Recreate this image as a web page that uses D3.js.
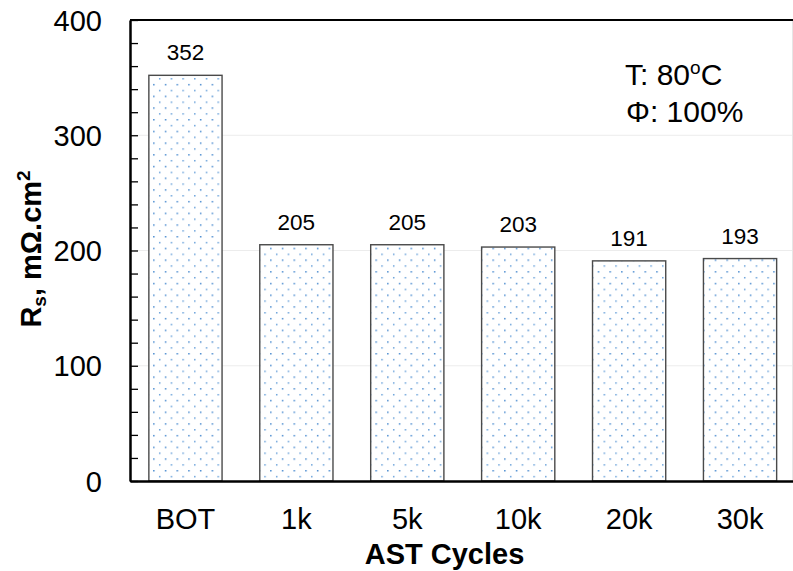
<!DOCTYPE html>
<html>
<head>
<meta charset="utf-8">
<script src="https://cdn.jsdelivr.net/npm/d3@7"></script>
<style>
  body { margin: 0; background: #fff; }
  svg { display: block; font-family: "Liberation Sans", Arial, sans-serif; }
</style>
</head>
<body>
<script>
(function(){
  //chart values
  const categories = ['BOT', '1k', '5k', '10k', '20k', '30k'];
  const values = [352, 205, 205, 203, 191, 193];
  const yTicks = [0, 20, 40, 60, 80, 100, 120, 140, 160, 180, 200, 220, 240, 260, 280, 300, 320, 340, 360, 380, 400];
  const gridValues = [100, 200, 300];

  const width = 793, height = 571;
  const left = 130, right = 795.5, top = 20, bottom = 481;

  const svg = d3.select('body').append('svg')
    .attr('width', width)
    .attr('height', height);

  //dotted fill for the bars
  const pat = svg.append('defs').append('pattern')
    .attr('id', 'dots')
    .attr('patternUnits', 'userSpaceOnUse')
    .attr('x', 1).attr('y', 2)
    .attr('width', 11.7).attr('height', 11.7);
  pat.append('rect').attr('width', 11.7).attr('height', 11.7).attr('fill', '#fff');
  pat.append('rect').attr('x', 0).attr('y', 0).attr('width', 1.5).attr('height', 1.5).attr('fill', '#4a8bd0');
  pat.append('rect').attr('x', 5.85).attr('y', 5.85).attr('width', 1.5).attr('height', 1.5).attr('fill', '#6aa2da');

  const x = d3.scaleBand()
    .domain(categories)
    .range([left, right])
    .paddingInner(0.34)
    .paddingOuter(0.17);

  const y = d3.scaleLinear()
    .domain([0, 400])
    .range([bottom, top]);

  //faint gridlines
  svg.selectAll('.grid')
    .data(gridValues)
    .enter().append('line')
    .attr('class', 'grid')
    .attr('x1', left).attr('x2', width)
    .attr('y1', d => y(d)).attr('y2', d => y(d))
    .attr('stroke', '#ececec')
    .attr('stroke-width', 1);

  //light right border of chart area
  svg.append('line')
    .attr('x1', 792.5).attr('x2', 792.5)
    .attr('y1', top).attr('y2', bottom)
    .attr('stroke', '#e6e6e6');

  //bars
  svg.selectAll('.bar')
    .data(values)
    .enter().append('rect')
    .attr('class', 'bar')
    .attr('x', (d, i) => x(categories[i]))
    .attr('width', x.bandwidth())
    .attr('y', d => y(d))
    .attr('height', d => bottom - y(d))
    .attr('fill', 'url(#dots)')
    .attr('stroke', '#4a4a4a')
    .attr('stroke-width', 1.4);

  //value labels
  svg.selectAll('.val')
    .data(values)
    .enter().append('text')
    .attr('class', 'val')
    .attr('x', (d, i) => x(categories[i]) + x.bandwidth() / 2)
    .attr('y', d => y(d) - 15)
    .attr('text-anchor', 'middle')
    .attr('font-size', 22.5)
    .attr('fill', '#000')
    .text(d => d);

  //top border
  svg.append('line')
    .attr('x1', left).attr('x2', width)
    .attr('y1', top).attr('y2', top)
    .attr('stroke', '#000')
    .attr('stroke-width', 2.2);

  //y axis, ticks pointing inward
  const yAxis = d3.axisLeft(y)
    .tickValues(yTicks)
    .tickSizeInner(-8)
    .tickSizeOuter(0)
    .tickPadding(28)
    .tickFormat(d => d % 100 === 0 ? d : '');

  const gy = svg.append('g')
    .attr('transform', 'translate(' + left + ',0)')
    .call(yAxis);
  gy.select('.domain').attr('stroke', '#000').attr('stroke-width', 2.5);
  gy.selectAll('.tick line').attr('stroke', '#000').attr('stroke-width', 1.3);
  gy.selectAll('.tick text')
    .attr('font-size', 29)
    .attr('font-family', '"Liberation Sans", Arial, sans-serif')
    .attr('fill', '#000')
    .attr('dy', '0.35em');

  //x axis
  const xAxis = d3.axisBottom(x).tickSize(0).tickPadding(27);
  const gx = svg.append('g')
    .attr('transform', 'translate(0,' + bottom + ')')
    .call(xAxis);
  gx.select('.domain').attr('stroke', '#000').attr('stroke-width', 2.5);
  gx.selectAll('.tick text')
    .attr('font-size', 29)
    .attr('font-family', '"Liberation Sans", Arial, sans-serif')
    .attr('fill', '#000');

  //axis titles
  svg.append('text')
    .attr('x', 444.5)
    .attr('y', 564)
    .attr('text-anchor', 'middle')
    .attr('font-size', 29)
    .attr('font-weight', 'bold')
    .text('AST Cycles');

  const yt = svg.append('text')
    .attr('transform', 'translate(41,249) rotate(-90)')
    .attr('text-anchor', 'middle')
    .attr('font-size', 29)
    .attr('font-weight', 'bold');
  yt.append('tspan').text('R');
  yt.append('tspan').attr('font-size', 19).attr('dy', 5).text('s');
  yt.append('tspan').attr('dy', -5).text(', m\u03A9.cm');
  yt.append('tspan').attr('font-size', 19).attr('dy', -11).text('2');

  //conditions note
  const t1 = svg.append('text')
    .attr('x', 625).attr('y', 85)
    .attr('font-size', 30);
  t1.append('tspan').text('T: 80');
  t1.append('tspan').attr('font-size', 19).attr('dy', -11).text('o');
  t1.append('tspan').attr('dy', 11).text('C');

  svg.append('text')
    .attr('x', 626).attr('y', 122)
    .attr('font-size', 30)
    .text('\u03A6: 100%');
})();
</script>
</body>
</html>
